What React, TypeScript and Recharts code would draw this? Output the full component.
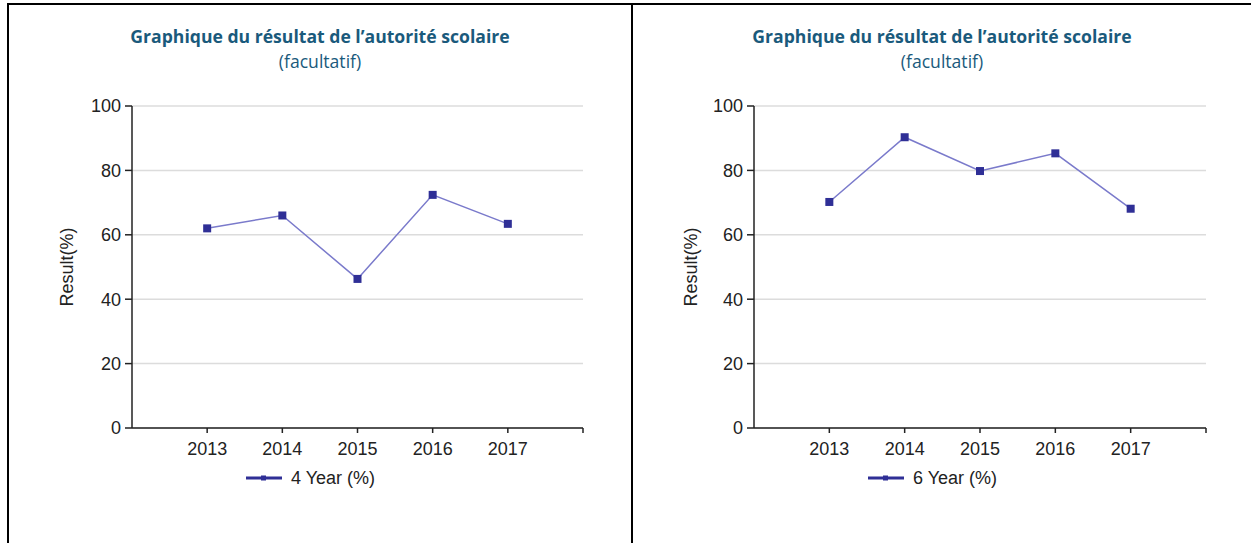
import React from 'react';
import {
  LineChart,
  Line,
  XAxis,
  YAxis,
  CartesianGrid,
  Legend,
} from 'recharts';

const years = [2013, 2014, 2015, 2016, 2017];
const fourYear = [62, 66, 46.3, 72.4, 63.4];
const sixYear = [70.2, 90.3, 79.8, 85.3, 68.1];
const yTicks = [0, 20, 40, 60, 80, 100];
const xTicks = [2013, 2014, 2015, 2016, 2017, 2018];

const TITLE = 'Graphique du résultat de l\u2019autorité scolaire';
const SUBTITLE = '(facultatif)';
const Y_LABEL = 'Result(%)';

const TEXT_FONT = "Arial, 'Liberation Sans', sans-serif";
const TITLE_COLOR = '#1a5a7c';
const LINE_COLOR = '#7a7acb';
const DOT_COLOR = '#2f2f96';
const AXIS_COLOR = '#222';

const H = 543;
const PLOT_TOP = 106;
const PLOT_BOTTOM = 428;

function SquareDot(props: any) {
  const { cx, cy, index } = props;
  if (cx == null || cy == null) return null;
  return <rect key={index} x={cx - 4} y={cy - 4} width={8} height={8} fill={DOT_COLOR} />;
}

interface PanelProps {
  left: number;
  width: number;
  axisX: number;
  plotRight: number;
  values: number[];
  name: string;
  legendX: number;
}

function Panel({ left, width, axisX, plotRight, values, name, legendX }: PanelProps) {
  const data = years.map((y, i) => ({ year: y, value: values[i] }));
  const tickStyle = { fill: AXIS_COLOR, fontSize: 18, fontFamily: TEXT_FONT };

  return (
    <div style={{ position: 'absolute', left, top: 0, width, height: H }}>
      <div
        style={{
          position: 'absolute',
          top: 24,
          left: 0,
          width,
          textAlign: 'center',
          color: TITLE_COLOR,
          fontFamily: "'Open Sans', sans-serif",
          lineHeight: '25px',
        }}
      >
        <div style={{ fontWeight: 700, fontSize: 17.6 }}>{TITLE}</div>
        <div style={{ fontSize: 17.6 }}>{SUBTITLE}</div>
      </div>
      <div style={{ position: 'absolute', left: 0, top: 0 }}>
        <LineChart
          width={width}
          height={H}
          data={data}
          margin={{ top: PLOT_TOP, right: left + width - plotRight, left: 0, bottom: 0 }}
        >
          <CartesianGrid vertical={false} stroke="#dcdcdc" strokeWidth={1.5} />
          <XAxis
            dataKey="year"
            type="number"
            domain={[2012, 2018]}
            ticks={xTicks}
            tickFormatter={(v: number) => (v === 2018 ? '' : String(v))}
            height={H - PLOT_BOTTOM}
            tickSize={5}
            tickMargin={9}
            tick={tickStyle}
            stroke={AXIS_COLOR}
            strokeWidth={1.5}
          />
          <YAxis
            domain={[0, 100]}
            ticks={yTicks}
            width={axisX - left}
            tickSize={7}
            tickMargin={4}
            tick={tickStyle}
            stroke={AXIS_COLOR}
            strokeWidth={1.5}
            label={{
              content: (p: any) => {
                const vb = p.viewBox;
                const x = vb.x + 58;
                const y = vb.y + vb.height / 2;
                return (
                  <text
                    x={x}
                    y={y}
                    transform={`rotate(-90, ${x}, ${y})`}
                    textAnchor="middle"
                    dominantBaseline="central"
                    fill={AXIS_COLOR}
                    fontSize={18}
                    fontFamily={TEXT_FONT}
                  >
                    {Y_LABEL}
                  </text>
                );
              },
            }}
          />
          <Legend
            layout="horizontal"
            verticalAlign="middle"
            align="center"
            wrapperStyle={{ left: legendX - left, top: 467, width: 200 }}
            content={() => (
              <div style={{ display: 'flex', alignItems: 'center', height: 22 }}>
                <svg width={36} height={22} style={{ display: 'block' }}>
                  <line x1={0} y1={11} x2={36} y2={11} stroke={DOT_COLOR} strokeWidth={3} />
                  <rect x={15} y={8.5} width={5} height={5} fill={DOT_COLOR} />
                </svg>
                <span
                  style={{
                    marginLeft: 9,
                    fontSize: 18,
                    fontFamily: TEXT_FONT,
                    color: AXIS_COLOR,
                  }}
                >
                  {name}
                </span>
              </div>
            )}
          />
          <Line
            type="linear"
            dataKey="value"
            name={name}
            stroke={LINE_COLOR}
            strokeWidth={1.5}
            dot={SquareDot}
            activeDot={false}
            isAnimationActive={false}
          />
        </LineChart>
      </div>
    </div>
  );
}

export default function App() {
  return (
    <div
      style={{
        position: 'fixed',
        left: 0,
        top: 0,
        width: 1251,
        height: H,
        background: '#fff',
        overflow: 'hidden',
      }}
    >
      <div style={{ position: 'absolute', left: 7, top: 3, width: 1251, height: 2, background: '#000' }} />
      <div style={{ position: 'absolute', left: 7, top: 3, width: 2, height: H, background: '#000' }} />
      <div style={{ position: 'absolute', left: 631, top: 3, width: 2, height: H, background: '#000' }} />
      <Panel left={9} width={622} axisX={132} plotRight={583} values={fourYear} name="4 Year (%)" legendX={246} />
      <Panel left={633} width={618} axisX={754} plotRight={1206} values={sixYear} name="6 Year (%)" legendX={868} />
    </div>
  );
}
